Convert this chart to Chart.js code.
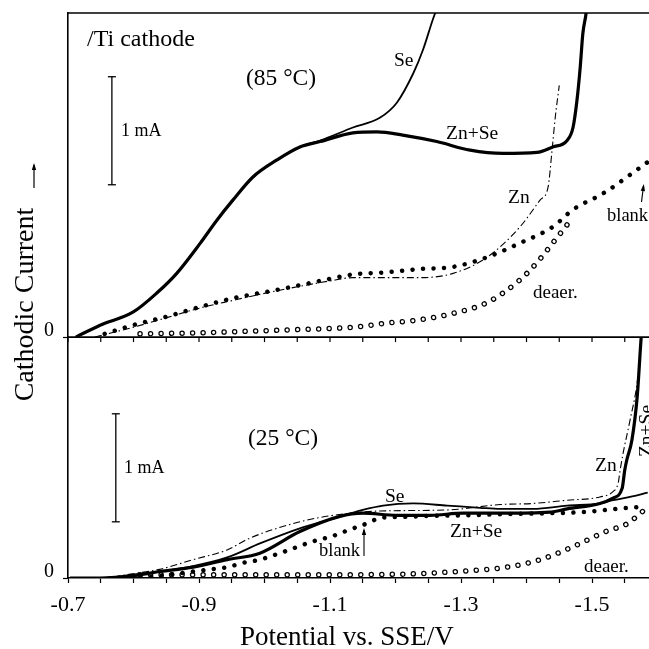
<!DOCTYPE html>
<html>
<head>
<meta charset="utf-8">
<script src="https://cdn.jsdelivr.net/npm/chart.js@4.4.0/dist/chart.umd.min.js"></script>
<style>
  html, body { margin: 0; padding: 0; background: #fff; }
  canvas { display: block; }
</style>
</head>
<body>
<canvas id="grafico" width="649" height="649"></canvas>
<script>
// potential (V vs. SSE) / cathodic current (mA) - 85 °C panel
const se85V = [-0.712, -0.749, -0.799, -0.836, -0.866, -0.902, -0.927, -0.952, -0.982, -1.019, -1.054, -1.085, -1.135, -1.176, -1.202, -1.227, -1.242, -1.257, -1.268];
const se85I = [0, 0.11, 0.23, 0.41, 0.59, 0.87, 1.08, 1.27, 1.48, 1.64, 1.76, 1.82, 1.94, 2.03, 2.17, 2.44, 2.66, 2.94, 3.12];
const znse85V = [-0.712, -0.749, -0.799, -0.836, -0.866, -0.902, -0.927, -0.952, -0.982, -1.019, -1.054, -1.085, -1.135, -1.172, -1.211, -1.263, -1.314, -1.364, -1.416, -1.440, -1.462, -1.471, -1.477, -1.482, -1.486, -1.491, -1.493];
const znse85I = [0, 0.11, 0.23, 0.41, 0.59, 0.87, 1.08, 1.27, 1.48, 1.64, 1.76, 1.81, 1.89, 1.90, 1.87, 1.81, 1.73, 1.70, 1.71, 1.76, 1.82, 1.94, 2.19, 2.50, 2.81, 3.0, 3.12];
const zn85V = [-0.741, -0.799, -0.851, -0.902, -0.952, -1.004, -1.054, -1.100, -1.135, -1.187, -1.237, -1.288, -1.340, -1.390, -1.421, -1.433, -1.439, -1.444, -1.450];
const zn85I = [0, 0.09, 0.18, 0.27, 0.34, 0.41, 0.47, 0.52, 0.55, 0.55, 0.55, 0.59, 0.74, 1.02, 1.27, 1.39, 1.73, 2.04, 2.33];
const blank85V = [-0.756, -0.799, -0.851, -0.902, -0.952, -1.004, -1.054, -1.100, -1.135, -1.187, -1.237, -1.288, -1.340, -1.390, -1.440, -1.471, -1.517, -1.585];
const blank85I = [0.03, 0.11, 0.19, 0.28, 0.36, 0.42, 0.48, 0.54, 0.58, 0.60, 0.63, 0.65, 0.74, 0.87, 1.02, 1.18, 1.33, 1.62];
const deaer85V = [-0.810, -0.902, -1.004, -1.100, -1.135, -1.187, -1.237, -1.288, -1.340, -1.390, -1.416, -1.440, -1.471];
const deaer85I = [0.03, 0.04, 0.06, 0.08, 0.09, 0.13, 0.16, 0.22, 0.32, 0.53, 0.69, 0.87, 1.11];

// 25 °C panel
const se25V = [-0.703, -0.749, -0.799, -0.840, -0.891, -0.943, -0.993, -1.054, -1.100, -1.150, -1.181, -1.227, -1.279, -1.329, -1.360, -1.410, -1.462, -1.512, -1.532, -1.558, -1.585];
const se25I = [0, 0, 0.03, 0.06, 0.11, 0.19, 0.32, 0.46, 0.54, 0.63, 0.67, 0.69, 0.67, 0.65, 0.64, 0.64, 0.67, 0.69, 0.72, 0.75, 0.79];
const znse25V = [-0.703, -0.749, -0.799, -0.840, -0.891, -0.943, -0.993, -1.054, -1.115, -1.150, -1.202, -1.253, -1.303, -1.360, -1.436, -1.462, -1.512, -1.532, -1.546, -1.550, -1.553, -1.561, -1.569, -1.576, -1.578];
const znse25I = [0, 0, 0.02, 0.06, 0.10, 0.17, 0.23, 0.43, 0.57, 0.60, 0.58, 0.58, 0.60, 0.60, 0.61, 0.64, 0.69, 0.74, 0.83, 1.00, 1.09, 1.28, 1.68, 2.30, 2.39];
const zn25V = [-0.703, -0.749, -0.799, -0.840, -0.891, -0.943, -0.978, -1.054, -1.105, -1.176, -1.279, -1.360, -1.410, -1.462, -1.512, -1.532, -1.540, -1.543, -1.547, -1.558, -1.569, -1.575];
const zn25I = [0, 0, 0.04, 0.08, 0.17, 0.26, 0.37, 0.52, 0.58, 0.62, 0.63, 0.68, 0.69, 0.72, 0.75, 0.80, 0.88, 1.00, 1.14, 1.46, 1.81, 2.16];
const blank25V = [-0.795, -0.840, -0.891, -0.917, -0.943, -0.967, -0.993, -1.028, -1.080, -1.100, -1.131, -1.150, -1.181, -1.207, -1.253, -1.303, -1.360, -1.436, -1.486, -1.538, -1.578];
const blank25I = [0, 0.02, 0.06, 0.08, 0.10, 0.14, 0.17, 0.24, 0.35, 0.38, 0.45, 0.49, 0.56, 0.565, 0.575, 0.58, 0.59, 0.60, 0.61, 0.64, 0.66];
const deaer25V = [-0.810, -0.902, -1.054, -1.207, -1.268, -1.318, -1.370, -1.421, -1.471, -1.523, -1.553, -1.578];
const deaer25I = [0.03, 0.03, 0.03, 0.035, 0.05, 0.07, 0.10, 0.17, 0.29, 0.435, 0.50, 0.62];

const xTicks = [-0.7, -0.75, -0.8, -0.85, -0.9, -0.95, -1.0, -1.05, -1.1, -1.15, -1.2, -1.25, -1.3, -1.35, -1.4, -1.45, -1.5, -1.55];
const xTickLabels = ['-0.7', '-0.9', '-1.1', '-1.3', '-1.5'];
const xRange = [-0.7, -1.587];
const yMax85 = 3.0;
const yMax25 = 2.23;

const serif = '"Liberation Serif", "Times New Roman", serif';

function pts(vs, is) {
    return vs.map((v, k) => ({ x: v, y: is[k] }));
}

function serie(vs, is, eixo, estilo) {
    return Object.assign({
        data: pts(vs, is), yAxisID: eixo, pointRadius: 0, fill: false,
        cubicInterpolationMode: 'monotone', borderColor: '#000'
    }, estilo);
}

const fino = { borderWidth: 1.8, order: 3 };
const grosso = { borderWidth: 3.2, order: 2 };
const tracoPonto = { borderWidth: 1.1, borderDash: [7, 3, 1.5, 3], order: 4 };
const pontos = { borderWidth: 4.5, borderDash: [0.01, 10.5], borderCapStyle: 'round', order: 5 };
const anelFora = { borderWidth: 5.5, borderDash: [0.01, 10.5], borderCapStyle: 'round', order: 7 };
const anelDentro = { borderWidth: 3.0, borderDash: [0.01, 10.5], borderCapStyle: 'round', borderColor: '#fff', order: 6 };

const notas = [
    { t: '/Ti cathode', x: 87, y: 46, size: 24 },
    { t: '(85 °C)', x: 246, y: 85, size: 23.5 },
    { t: '1 mA', x: 121, y: 136, size: 18 },
    { t: 'Se', x: 394, y: 66, size: 19.5 },
    { t: 'Zn+Se', x: 446, y: 139, size: 19.5 },
    { t: 'Zn', x: 508, y: 203, size: 19.5 },
    { t: 'blank', x: 607, y: 221, size: 18.5 },
    { t: 'deaer.', x: 533, y: 298, size: 19 },
    { t: '(25 °C)', x: 248, y: 445, size: 23.5 },
    { t: '1 mA', x: 124, y: 473, size: 18 },
    { t: 'Se', x: 385, y: 502, size: 19.5 },
    { t: 'Zn+Se', x: 450, y: 537, size: 19.5 },
    { t: 'blank', x: 319, y: 556, size: 18.5 },
    { t: 'deaer.', x: 584, y: 572, size: 19 },
    { t: 'Zn', x: 595, y: 471, size: 19.5 }
];

function linha(ctx, x1, y1, x2, y2) {
    ctx.beginPath(); ctx.moveTo(x1, y1); ctx.lineTo(x2, y2); ctx.stroke();
}

function seta(ctx, x1, y1, x2, y2) {
    linha(ctx, x1, y1, x2, y2);
    const ang = Math.atan2(y2 - y1, x2 - x1);
    ctx.beginPath();
    ctx.moveTo(x2 + Math.cos(ang) * 2, y2 + Math.sin(ang) * 2);
    ctx.lineTo(x2 - Math.cos(ang) * 5 + Math.sin(ang) * 2.2, y2 - Math.sin(ang) * 5 - Math.cos(ang) * 2.2);
    ctx.lineTo(x2 - Math.cos(ang) * 5 - Math.sin(ang) * 2.2, y2 - Math.sin(ang) * 5 + Math.cos(ang) * 2.2);
    ctx.closePath(); ctx.fill();
}

function barra(ctx, escala, sx, v, de, ate) {
    const x = sx.getPixelForValue(v);
    const y1 = escala.getPixelForValue(de), y2 = escala.getPixelForValue(ate);
    linha(ctx, x, y1, x, y2);
    linha(ctx, x - 4, y1, x + 4, y1);
    linha(ctx, x - 4, y2, x + 4, y2);
}

const moldura = {
    id: 'moldura',
    afterDraw(chart) {
        const ctx = chart.ctx, a = chart.chartArea, sx = chart.scales.x;
        const y85 = chart.scales.y85, y25 = chart.scales.y25;
        ctx.save();
        ctx.strokeStyle = '#000';
        ctx.fillStyle = '#000';
        ctx.lineWidth = 1.6;
        linha(ctx, a.left, a.top, a.right, a.top);
        const meio = y85.getPixelForValue(0);
        linha(ctx, a.left, meio, a.right, meio);
        ctx.lineWidth = 1.2;
        xTicks.forEach(v => {
            const px = sx.getPixelForValue(v);
            linha(ctx, px, meio, px, meio + 5);
        });

        ctx.lineWidth = 1.3;
        barra(ctx, y85, sx, -0.767, 1.41, 2.41);
        barra(ctx, y25, sx, -0.773, 0.52, 1.52);

        ctx.textBaseline = 'alphabetic';
        ctx.textAlign = 'left';
        notas.forEach(n => {
            ctx.font = `${n.size}px ${serif}`;
            ctx.fillText(n.t, n.x, n.y);
        });

        ctx.lineWidth = 1.1;
        seta(ctx, 641.5, 202, 643.5, 186);
        seta(ctx, 364, 556, 364, 530);

        // rotated Zn+Se label at the right edge
        ctx.save();
        ctx.translate(652, 431);
        ctx.rotate(-Math.PI / 2);
        ctx.textAlign = 'center';
        ctx.font = `19.5px ${serif}`;
        ctx.fillText('Zn+Se', 0, 0);
        ctx.restore();

        // axis titles
        ctx.save();
        ctx.translate(33, 304.5);
        ctx.rotate(-Math.PI / 2);
        ctx.textAlign = 'center';
        ctx.font = `28px ${serif}`;
        ctx.fillText('Cathodic Current', 0, 0);
        ctx.restore();
        ctx.lineWidth = 1.2;
        seta(ctx, 34, 188, 34, 165);

        ctx.font = `27px ${serif}`;
        ctx.textAlign = 'left';
        ctx.fillText('Potential vs. SSE/V', 240, 645);
        ctx.restore();
    }
};

function eixoY(max) {
    return {
        type: 'linear', position: 'left', stack: 'paineis', stackWeight: max,
        min: 0, max: max,
        afterBuildTicks: s => { s.ticks = [{ value: 0 }]; },
        afterFit: s => { s.width = 68; s.paddingTop = 0; s.paddingBottom = 0; },
        ticks: { color: '#000', padding: 9, labelOffset: -6, font: { family: serif, size: 20 }, callback: () => '0' },
        grid: { drawOnChartArea: false, tickLength: 5, color: '#000', tickWidth: 1.2 },
        border: { display: true, color: '#000', width: 1.6 }
    };
}

new Chart(document.getElementById('grafico'), {
    type: 'line',
    data: {
        datasets: [
            serie(se85V, se85I, 'y85', fino),
            serie(znse85V, znse85I, 'y85', grosso),
            serie(zn85V, zn85I, 'y85', tracoPonto),
            serie(blank85V, blank85I, 'y85', pontos),
            serie(deaer85V, deaer85I, 'y85', anelFora),
            serie(deaer85V, deaer85I, 'y85', anelDentro),
            serie(se25V, se25I, 'y25', fino),
            serie(znse25V, znse25I, 'y25', grosso),
            serie(zn25V, zn25I, 'y25', tracoPonto),
            serie(blank25V, blank25I, 'y25', pontos),
            serie(deaer25V, deaer25I, 'y25', anelFora),
            serie(deaer25V, deaer25I, 'y25', anelDentro)
        ]
    },
    options: {
        responsive: false,
        animation: false,
        layout: { padding: { top: 13, left: 0, right: 0, bottom: 0 } },
        plugins: { legend: { display: false }, tooltip: { enabled: false } },
        scales: {
            x: {
                type: 'linear', reverse: true, min: xRange[1], max: xRange[0],
                afterBuildTicks: s => { s.ticks = xTicks.map(v => ({ value: v })); },
                afterFit: s => { s.height = 71; s.paddingLeft = 0; s.paddingRight = 0; },
                ticks: {
                    autoSkip: false, maxRotation: 0, padding: 9, color: '#000',
                    font: { family: serif, size: 22 },
                    callback: v => xTickLabels.find(t => Math.abs(parseFloat(t) - v) < 1e-6) || ''
                },
                grid: { drawOnChartArea: false, tickLength: 5, color: '#000', tickWidth: 1.2 },
                border: { display: true, color: '#000', width: 1.6 }
            },
            y25: eixoY(yMax25),
            y85: eixoY(yMax85)
        }
    },
    plugins: [moldura]
});
</script>
</body>
</html>
